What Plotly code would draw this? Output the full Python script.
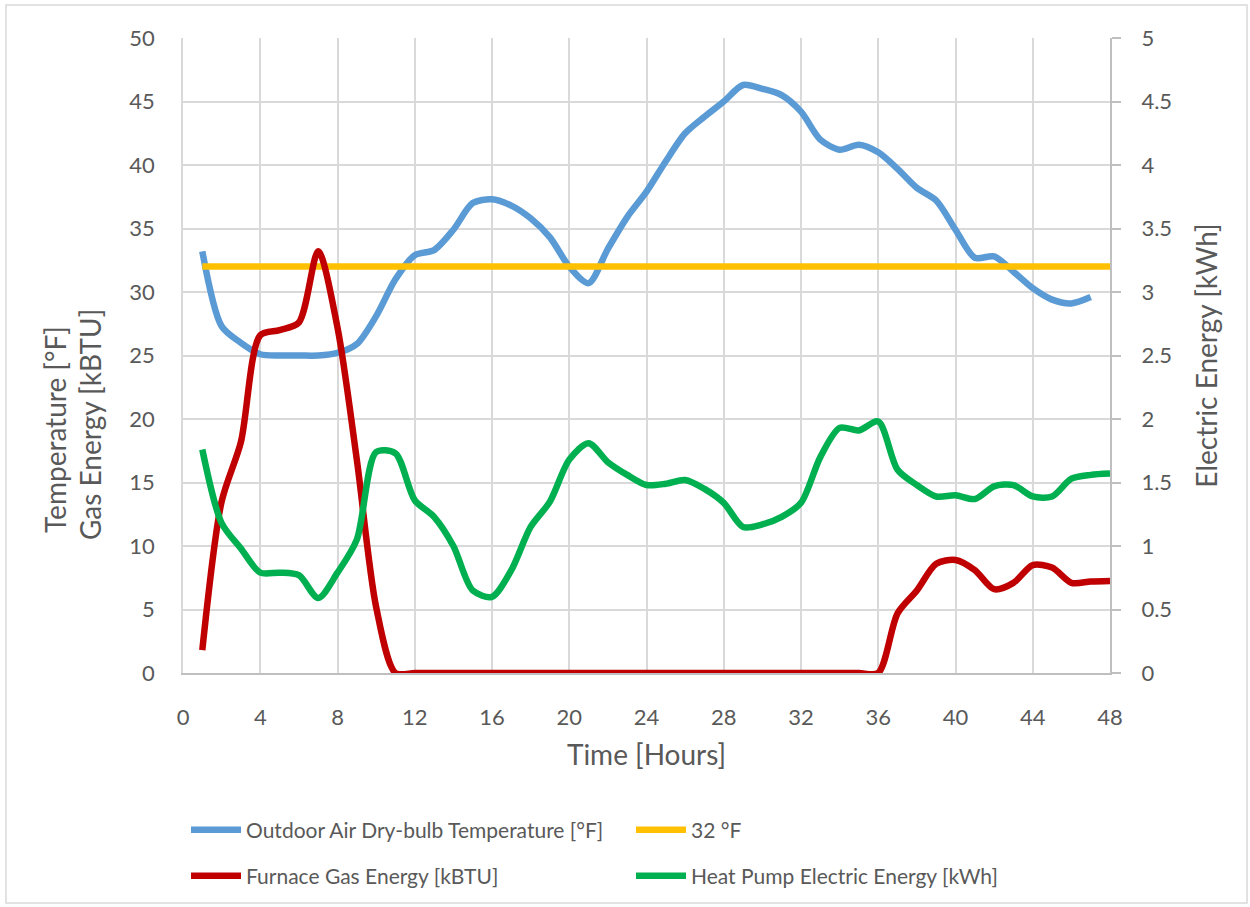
import plotly.graph_objects as go

hours_temp = [1, 2, 3, 4, 5, 6, 7, 8, 9, 10, 11, 12, 13, 14, 15, 16, 17, 18, 19, 20,
              21, 22, 23, 24, 25, 26, 27, 28, 29, 30, 31, 32, 33, 34, 35, 36, 37, 38,
              39, 40, 41, 42, 43, 44, 45, 46, 47]
hours = [1, 2, 3, 4, 5, 6, 7, 8, 9, 10, 11, 12, 13, 14, 15, 16, 17, 18, 19, 20,
         21, 22, 23, 24, 25, 26, 27, 28, 29, 30, 31, 32, 33, 34, 35, 36, 37, 38,
         39, 40, 41, 42, 43, 44, 45, 46, 47, 48]

outdoor_temp = [33.2, 27.3, 26.0, 25.1, 25.0, 25.0, 25.0, 25.2, 25.9, 28.1, 31.0, 32.9,
                33.3, 34.9, 37.0, 37.3, 36.8, 35.8, 34.3, 32.0, 30.7, 33.4, 35.9, 37.9,
                40.3, 42.5, 43.8, 45.0, 46.3, 46.0, 45.5, 44.2, 42.0, 41.2, 41.6, 41.0,
                39.7, 38.2, 37.2, 34.9, 32.7, 32.8, 31.6, 30.3, 29.4, 29.1, 29.6]
freezing = [32, 32, 32, 32, 32, 32, 32, 32, 32, 32, 32, 32, 32, 32, 32, 32, 32, 32,
            32, 32, 32, 32, 32, 32, 32, 32, 32, 32, 32, 32, 32, 32, 32, 32, 32, 32,
            32, 32, 32, 32, 32, 32, 32, 32, 32, 32, 32, 32]
furnace_gas = [1.8, 13.5, 18.2, 26.6, 27.0, 27.6, 33.2, 27.2, 16.8, 5.2, 0, 0,
               0, 0, 0, 0, 0, 0, 0, 0, 0, 0, 0, 0,
               0, 0, 0, 0, 0, 0, 0, 0, 0, 0, 0, 0,
               4.7, 6.5, 8.6, 8.9, 8.1, 6.6, 7.1, 8.5, 8.3, 7.1, 7.2, 7.25]
heat_pump_elec = [1.76, 1.18, 0.98, 0.79, 0.79, 0.77, 0.59, 0.79, 1.05, 1.74, 1.73, 1.36,
                  1.23, 1.00, 0.65, 0.60, 0.81, 1.15, 1.35, 1.68, 1.81, 1.66, 1.56, 1.48,
                  1.49, 1.52, 1.45, 1.34, 1.15, 1.17, 1.23, 1.34, 1.70, 1.93, 1.91, 1.98,
                  1.60, 1.48, 1.39, 1.40, 1.37, 1.47, 1.48, 1.39, 1.39, 1.53, 1.56, 1.57]

x_ticks = [0, 4, 8, 12, 16, 20, 24, 28, 32, 36, 40, 44, 48]
x_ticklabels = ["0", "4", "8", "12", "16", "20", "24", "28", "32", "36", "40", "44", "48"]
y_ticks = [0, 5, 10, 15, 20, 25, 30, 35, 40, 45, 50]
y_ticklabels = ["0", "5", "10", "15", "20", "25", "30", "35", "40", "45", "50"]
y2_ticks = [0, 0.5, 1, 1.5, 2, 2.5, 3, 3.5, 4, 4.5, 5]
y2_ticklabels = ["0", "0.5", "1", "1.5", "2", "2.5", "3", "3.5", "4", "4.5", "5"]

FONT = "Lato"
TXT = "#595959"
GRID = "#d9d9d9"
AXL = "#bfbfbf"
LW = 6.5

fig = go.Figure()
fig.add_trace(go.Scatter(x=hours_temp, y=outdoor_temp, mode="lines",
                         name="Outdoor Air Dry-bulb Temperature [°F]",
                         line=dict(color="#5B9BD5", width=LW, shape="spline", smoothing=0.8),
                         legend="legend"))
fig.add_trace(go.Scatter(x=hours, y=freezing, mode="lines", name="32 °F",
                         line=dict(color="#FFC000", width=LW), legend="legend"))
fig.add_trace(go.Scatter(x=hours, y=furnace_gas, mode="lines",
                         name="Furnace Gas Energy [kBTU]",
                         line=dict(color="#C00000", width=LW, shape="spline", smoothing=0.8),
                         legend="legend2"))
fig.add_trace(go.Scatter(x=hours, y=heat_pump_elec, mode="lines", yaxis="y2",
                         name="Heat Pump Electric Energy [kWh]",
                         line=dict(color="#00B050", width=LW, shape="spline", smoothing=0.8),
                         legend="legend2"))

L, R, T, B = 183, 140, 38, 234
W, H = 1250, 907
pw, ph = W - L - R, H - T - B

def px(xp):
    return (xp - L) / pw

def py(yp):
    return (H - B - yp) / ph

legend_common = dict(orientation="h", xanchor="left", yanchor="middle",
                     font=dict(family=FONT, size=21, color=TXT),
                     entrywidth=380, entrywidthmode="pixels", itemwidth=50,
                     bgcolor="rgba(0,0,0,0)", borderwidth=0)

fig.update_layout(
    width=W, height=H,
    margin=dict(l=L, r=R, t=T, b=B, autoexpand=False),
    paper_bgcolor="white", plot_bgcolor="white",
    font=dict(family=FONT, color=TXT),
    showlegend=True,
    legend=dict(x=px(186), y=py(830), **legend_common),
    legend2=dict(x=px(186), y=py(876), **legend_common),
    xaxis=dict(range=[0, 48], tickvals=x_ticks, ticktext=x_ticklabels,
               showgrid=True, gridcolor=GRID, gridwidth=1.5,
               showline=True, linecolor=AXL, linewidth=2, zeroline=False,
               ticks="", ticklabelstandoff=24,
               tickfont=dict(family=FONT, size=22, color=TXT),
               title=dict(text="Time [Hours]", font=dict(family=FONT, size=28, color=TXT),
                          standoff=16)),
    yaxis=dict(range=[0, 50], tickvals=y_ticks, ticktext=y_ticklabels,
               showgrid=True, gridcolor=GRID, gridwidth=1.5,
               showline=True, linecolor=GRID, linewidth=1.5, zeroline=False,
               ticks="", ticklabelstandoff=22,
               tickfont=dict(family=FONT, size=22, color=TXT)),
    yaxis2=dict(range=[0, 5], tickvals=y2_ticks, ticktext=y2_ticklabels,
                overlaying="y", side="right", showgrid=False, zeroline=False,
                showline=True, linecolor=AXL, linewidth=2,
                ticks="outside", ticklen=9, tickcolor=AXL, tickwidth=2,
                ticklabelstandoff=16,
                tickfont=dict(family=FONT, size=22, color=TXT),
                title=dict(text="Electric Energy [kWh]",
                           font=dict(family=FONT, size=28, color=TXT), standoff=26)),
)

fig.add_annotation(xref="paper", yref="paper", x=px(55), y=py(430), text="Temperature [°F]",
                   textangle=-90, showarrow=False, xanchor="center", yanchor="middle",
                   font=dict(family=FONT, size=28, color=TXT))
fig.add_annotation(xref="paper", yref="paper", x=px(90), y=py(425), text="Gas Energy [kBTU]",
                   textangle=-90, showarrow=False, xanchor="center", yanchor="middle",
                   font=dict(family=FONT, size=28, color=TXT))

fig.add_shape(type="rect", xref="paper", yref="paper",
              x0=px(6), x1=px(1247), y0=py(903), y1=py(5),
              line=dict(color="#d9d9d9", width=1.5), fillcolor="rgba(0,0,0,0)", layer="below")

fig.write_html("out.html")
